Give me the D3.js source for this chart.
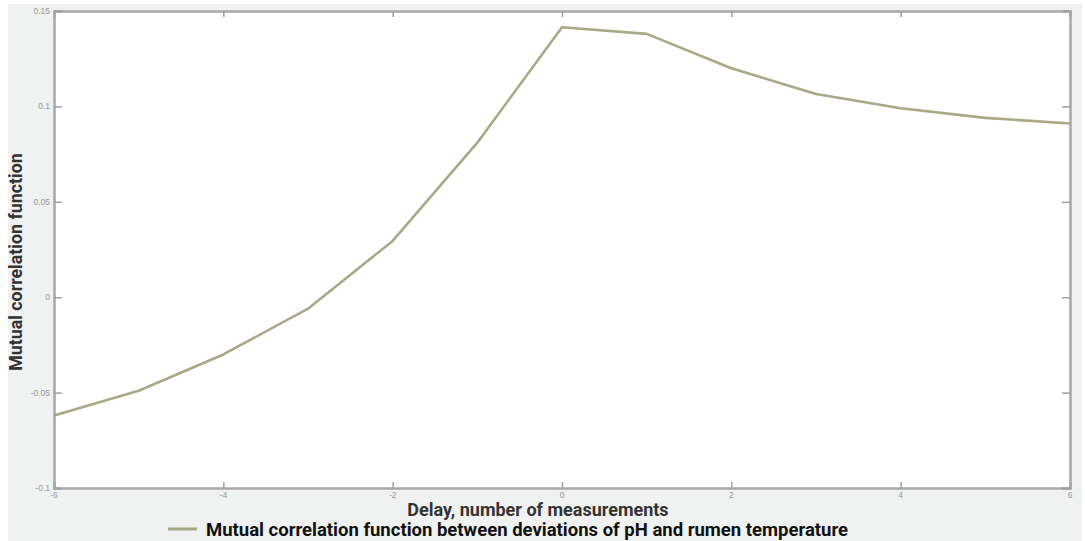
<!DOCTYPE html>
<html><head><meta charset="utf-8">
<script src="https://cdn.jsdelivr.net/npm/d3@7"></script>
<style>body{margin:0;background:#fff}svg{display:block}</style>
</head><body>
<svg id="c" width="1085" height="541"></svg>
<script>
const delays = [-6,-5,-4,-3,-2,-1,0,1,2,3,4,5,6];
const correlation = [-0.062,-0.049,-0.030,-0.006,0.0295,0.081,0.1415,0.138,0.120,0.1065,0.099,0.094,0.091];
const xTicks = [-6,-4,-2,0,2,4,6];
const yTicks = [-0.1,-0.05,0,0.05,0.1,0.15];
const yTickLabels = ["-0.1","-0.05","0","0.05","0.1","0.15"];
const xLabel = "Delay, number of measurements";
const yLabel = "Mutual correlation function";
const legendLabel = "Mutual correlation function between deviations of pH and rumen temperature";

const svg = d3.select("#c");
svg.append("rect").attr("x",8).attr("y",4).attr("width",1074).attr("height",537).attr("fill","#f0f1f1");
const L=54,R=1070,T=11,B=488;
const x = d3.scaleLinear().domain([-6,6]).range([L,R]);
const y = d3.scaleLinear().domain([-0.1,0.15]).range([B,T]);
svg.append("rect").attr("x",L).attr("y",T).attr("width",R-L).attr("height",B-T).attr("fill","#fff");

const tickCol="#a0a0a0";
const gB = svg.append("g").attr("transform",`translate(0,${B})`)
  .call(d3.axisTop(x).tickValues(xTicks).tickSize(6).tickFormat(""));
const gT = svg.append("g").attr("transform",`translate(0,${T})`)
  .call(d3.axisBottom(x).tickValues(xTicks).tickSize(6).tickFormat(""));
const gL = svg.append("g").attr("transform",`translate(${L},0)`)
  .call(d3.axisRight(y).tickValues(yTicks).tickSize(8).tickFormat(""));
const gR = svg.append("g").attr("transform",`translate(${R},0)`)
  .call(d3.axisLeft(y).tickValues(yTicks).tickSize(8).tickFormat(""));
[gB,gT,gL,gR].forEach(g=>{
  g.selectAll("path").attr("stroke","#a8a8a8").attr("stroke-width",2.5);
  g.selectAll("line").attr("stroke",tickCol).attr("stroke-width",1.5);
});
svg.append("g").selectAll("text").data(xTicks).join("text")
  .attr("x",d=>x(d)).attr("y",B+10).attr("text-anchor","middle")
  .attr("font-family","Liberation Sans, Arial, sans-serif").attr("font-size",8.5).attr("fill","#9a9a9a")
  .text(d=>String(d));
svg.append("g").selectAll("text").data(yTicks).join("text")
  .attr("x",L-4).attr("y",d=>y(d)+3).attr("text-anchor","end")
  .attr("font-family","Liberation Sans, Arial, sans-serif").attr("font-size",8.5).attr("fill","#9a9a9a")
  .text((d,i)=>yTickLabels[i]);

const line = d3.line().x((d,i)=>x(delays[i])).y(d=>y(d));
svg.append("path").datum(correlation).attr("d",line).attr("fill","none")
  .attr("stroke","#a9a985").attr("stroke-width",2.6).attr("stroke-linejoin","round");

svg.append("text").attr("x",538).attr("y",516).attr("text-anchor","middle")
  .attr("font-family","Roboto, sans-serif").attr("font-weight","bold").attr("font-size",18).attr("fill","#333")
  .text(xLabel);
svg.append("text").attr("transform","translate(22,262) rotate(-90)").attr("text-anchor","middle")
  .attr("font-family","Roboto, sans-serif").attr("font-weight","bold").attr("font-size",17.8).attr("fill","#333")
  .text(yLabel);
svg.append("line").attr("x1",168).attr("x2",197).attr("y1",529).attr("y2",529)
  .attr("stroke","#a9a985").attr("stroke-width",3);
svg.append("text").attr("x",206).attr("y",536)
  .attr("font-family","Roboto, sans-serif").attr("font-weight","bold").attr("font-size",18.5).attr("fill","#111")
  .text(legendLabel);
</script>
</body></html>
